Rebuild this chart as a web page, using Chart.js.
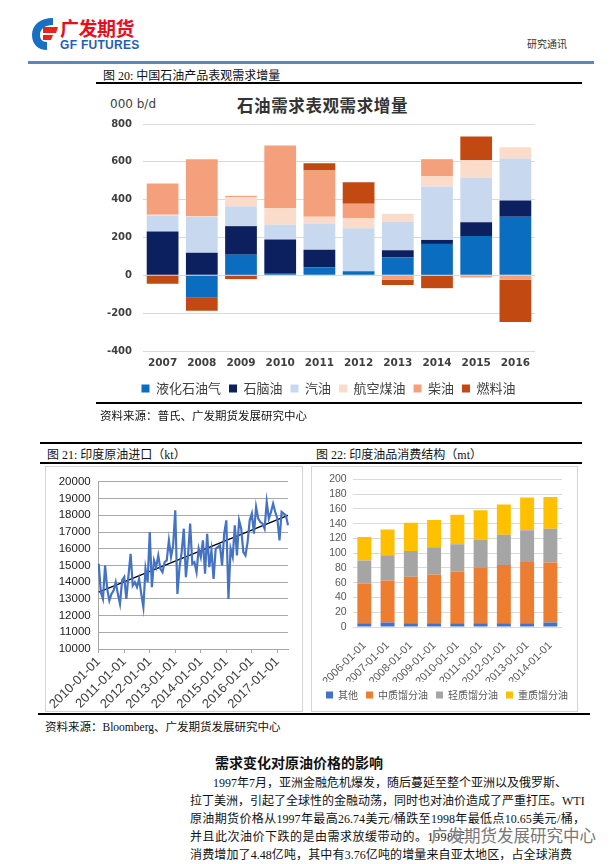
<!DOCTYPE html>
<html>
<head>
<meta charset="utf-8">
<script src="https://cdn.jsdelivr.net/npm/chart.js@4.4.1/dist/chart.umd.min.js"></script>
<style>
  body { margin: 0; background: #fff; }
  #page { position: relative; width: 614px; height: 864px; overflow: hidden; font-family: "Liberation Serif", "Noto Sans CJK SC", serif; color: #111; }
  .abs { position: absolute; white-space: nowrap; }
  .hline { position: absolute; background: #000; }
  .box { position: absolute; border: 1px solid #d4d4d4; box-sizing: border-box; }
  .cap { font-size: 12px; }
  .para { position: absolute; font-size: 12px; text-align: justify; text-align-last: justify; white-space: nowrap; }
</style>
</head>
<body>
<div id="page">
  <!-- header -->
  <svg class="abs" style="left:31px;top:17px" width="27" height="34" viewBox="0 0 27 34">
    <path d="M22 1 C9 1 1 8 1 18 C1 27 7 33 16 33 L16 25 C11 25 9 22 9 18 C9 12 14 8 22 8 Z" fill="#1a6fc4"/>
    <path d="M12 10 L27 10 L25 16 L12 16 Z" fill="#e8231b"/>
    <path d="M12 18 L22 18 L20 23 L12 23 Z" fill="#e8231b"/>
  </svg>
  <div class="abs" style="left:60px;top:14px;font:bold 19px 'Noto Sans CJK SC';color:#e60f1b;letter-spacing:-0.5px">广发期货</div>
  <div class="abs" style="left:60px;top:38px;font:bold 12px 'Liberation Sans';color:#1f5fb4;letter-spacing:0.3px">GF FUTURES</div>
  <div class="abs" style="left:527px;top:36px;font-size:10px;color:#333">研究通讯</div>
  <div class="hline" style="left:28px;top:61px;width:566px;height:3px;background:#5b86c4"></div>

  <!-- figure 20 -->
  <div class="abs cap" style="left:103px;top:66px">图 20:&nbsp;中国石油产品表观需求增量</div>
  <div class="hline" style="left:96px;top:82px;width:486px;height:1.5px"></div>
  <div class="abs" style="left:110px;top:97px;font:12px 'DejaVu Sans';color:#404040">000 b/d</div>
  <div class="abs" style="left:237px;top:93px;font:bold 16.5px 'Noto Sans CJK SC';color:#333;letter-spacing:0.6px">石油需求表观需求增量</div>
  <canvas id="c1" class="abs" style="left:96px;top:84px" width="484" height="321"></canvas>
  <div class="hline" style="left:96px;top:402px;width:486px;height:1.5px"></div>
  <div class="abs" style="left:100px;top:407px;font-size:11.5px">资料来源：普氏、广发期货发展研究中心</div>

  <!-- figures 21 / 22 -->
  <div class="hline" style="left:40px;top:442px;width:542px;height:1.5px"></div>
  <div class="abs cap" style="left:47px;top:445px">图 21:&nbsp;印度原油进口（kt）</div>
  <div class="abs cap" style="left:316px;top:445px">图 22:&nbsp;印度油品消费结构（mt）</div>
  <div class="hline" style="left:40px;top:462px;width:542px;height:1.5px"></div>
  <div class="box" style="left:45px;top:466px;width:258px;height:246px"></div>
  <div class="box" style="left:311px;top:466px;width:267px;height:246px"></div>
  <canvas id="c2" class="abs" style="left:46px;top:467px" width="256" height="244"></canvas>
  <canvas id="c3" class="abs" style="left:312px;top:467px" width="275" height="243"></canvas>
  <div class="hline" style="left:38px;top:713px;width:552px;height:1.5px"></div>
  <div class="abs" style="left:45px;top:718px;font-size:11.5px">资料来源：Bloomberg、广发期货发展研究中心</div>

  <!-- text -->
  <div class="abs" style="left:215px;top:752px;font:bold 14px 'Noto Sans CJK SC'">需求变化对原油价格的影响</div>
  <div class="para" style="left:213px;top:773px;width:344px">1997年7月，亚洲金融危机爆发，随后蔓延至整个亚洲以及俄罗斯、</div>
  <div class="para" style="left:190px;top:791px;width:393px">拉丁美洲，引起了全球性的金融动荡，同时也对油价造成了严重打压。WTI</div>
  <div class="para" style="left:190px;top:809px;width:395px">原油期货价格从1997年最高26.74美元/桶跌至1998年最低点10.65美元/桶，</div>
  <div class="abs" style="left:190px;top:827px;font-size:12px;letter-spacing:0.5px">并且此次油价下跌的是由需求放缓带动的。1998年</div>
  <div class="abs" style="left:431px;top:823px;font:16.5px 'Noto Sans CJK SC';color:#777;text-shadow:0 0 2px #fff,0 0 2px #fff">广发期货发展研究中心</div>
  <div class="para" style="left:190px;top:845px;width:382px">消费增加了4.48亿吨，其中有3.76亿吨的增量来自亚太地区，占全球消费</div>
</div>

<script>
// ---- 图20 中国石油产品表观需求增量 (000 b/d)
const years = ["2007","2008","2009","2010","2011","2012","2013","2014","2015","2016"];
const lpg      = [0, -119, 109, 9, 43, 21, 94, 166, 208, 310];
const naphtha  = [232, 119, 151, 180, 92, 0, 38, 21, 73, 85];
const gasoline = [84, 190, 105, 78, 139, 228, 151, 283, 235, 223];
const jetFuel  = [4, 5, 48, 87, 36, 54, 43, 55, 93, 59];
const diesel   = [165, 300, 7, 333, 244, 75, -23, 89, -12, -23];
const fuelOil  = [-44, -68, -20, 0, 39, 114, -28, -68, 125, -224];

// ---- 图21 印度原油进口 (kt), 月度 2010-01 .. 2017-06
const importKt = [
  15100, 13400, 13000, 15000, 13600, 12900, 13300, 13500, 14000, 13300, 12700, 14100,
  14300, 13000, 14400, 15700, 13800, 14000, 13700, 14200, 13300, 12500, 14800, 14000,
  17000, 13700, 15300, 14900, 15600, 14800, 14600, 15200, 15300, 16500, 15500, 16200,
  18300, 13300, 14900, 15800, 17200, 14300, 15600, 17500, 15100, 15200, 14600, 16000,
  15500, 16500, 14500, 16900, 14900, 15900, 14200, 16000, 16100, 16200, 15000, 16900,
  17700, 13000, 16000, 15500, 17400, 15600, 17700, 17200, 15800, 15600, 16400, 17700,
  18100, 16900, 18500, 17800, 17600, 17500, 17200, 18800, 17800, 18200, 18700, 18200,
  17800, 16500, 18200, 18100, 18000, 17400
];
const trendEnds = [13400, 18000];
const months = [];
for (let y = 2010; y <= 2017; y++) {
  for (let m = 1; m <= 12; m++) {
    if (months.length < importKt.length) months.push(y + "-" + String(m).padStart(2, "0") + "-01");
  }
}

// ---- 图22 印度油品消费结构 (mt)
const consYears = ["2006-01-01","2007-01-01","2008-01-01","2009-01-01","2010-01-01","2011-01-01","2012-01-01","2013-01-01","2014-01-01"];
const other   = [5, 6, 5, 5, 5, 5, 5, 5, 6];
const middle  = [54, 57, 63, 66, 70, 75, 79, 83, 81.5];
const light   = [31, 34, 35, 37, 37, 38, 41, 43, 45.5];
const heavy   = [32, 35, 38, 37, 40, 40, 41, 44.5, 43];

const cjk = "'Noto Sans CJK SC'";

// blank right-hand axis, only used to keep the legend centred where the original has it
const spacer = w => ({
  position: "right", min: 0, max: 1,
  ticks: { display: false }, grid: { display: false }, border: { display: false },
  afterFit: s => { s.width = w; }
});

new Chart(document.getElementById("c1"), {
  type: "bar",
  data: {
    labels: years,
    datasets: [
      { label: "液化石油气", data: lpg, backgroundColor: "#0b6dc0" },
      { label: "石脑油", data: naphtha, backgroundColor: "#0c1f5e" },
      { label: "汽油", data: gasoline, backgroundColor: "#c8d9ef" },
      { label: "航空煤油", data: jetFuel, backgroundColor: "#fbdccb" },
      { label: "柴油", data: diesel, backgroundColor: "#f4a07c" },
      { label: "燃料油", data: fuelOil, backgroundColor: "#c24a12" }
    ]
  },
  options: {
    responsive: false,
    animation: false,
    layout: { padding: { top: 40, right: 19, left: 0, bottom: 0 } },
    datasets: { bar: { categoryPercentage: 0.9, barPercentage: 0.9 } },
    scales: {
      x: {
        stacked: true,
        grid: { display: false, drawTicks: false, tickLength: 0 },
        border: { display: false },
        ticks: { font: { family: "DejaVu Sans", size: 10.5, weight: "bold" }, color: "#404040", padding: 6 },
        afterFit: s => { s.height = 23; }
      },
      y: {
        stacked: true,
        min: -400,
        max: 800,
        ticks: { stepSize: 200, font: { family: "DejaVu Sans", size: 10, weight: "bold" }, color: "#404040", padding: 11 },
        grid: { color: "#d9d9d9", drawTicks: false },
        border: { display: false },
        afterFit: s => { s.width = 47; }
      },
      pad: spacer(26)
    },
    plugins: {
      tooltip: { enabled: false },
      legend: {
        position: "bottom",
        labels: { boxWidth: 8, boxHeight: 8, padding: 8, color: "#404040", font: { family: cjk, size: 13 } }
      }
    }
  }
});

new Chart(document.getElementById("c2"), {
  type: "line",
  data: {
    labels: months,
    datasets: [
      { data: importKt, borderColor: "#4472c4", borderWidth: 2.2, pointRadius: 0, tension: 0 },
      { data: [{ x: months[0], y: trendEnds[0] }, { x: months[months.length - 1], y: trendEnds[1] }],
        borderColor: "#000", borderWidth: 1.4, pointRadius: 0 }
    ]
  },
  options: {
    responsive: false,
    animation: false,
    layout: { padding: { top: 9, right: 14, left: 0, bottom: 0 } },
    scales: {
      x: {
        grid: { drawOnChartArea: false, tickLength: 4, color: "#a6a6a6" },
        border: { color: "#a6a6a6" },
        ticks: {
          autoSkip: false, maxRotation: 45, minRotation: 45, padding: 1,
          color: "#404040", font: { family: "Liberation Sans", size: 13 },
          callback: function (v) { const l = this.getLabelForValue(v); return l.slice(5, 7) === "01" ? l : null; }
        },
        afterFit: s => { s.height = 62; }
      },
      y: {
        min: 10000,
        max: 20000,
        ticks: { stepSize: 1000, autoSkip: false, color: "#222", font: { family: "Liberation Sans", size: 11.5 }, padding: 8, callback: v => String(v) },
        grid: { color: "#a9a9a9", drawTicks: false },
        border: { color: "#a6a6a6" },
        afterFit: s => { s.width = 52.7; }
      }
    },
    plugins: { legend: { display: false }, tooltip: { enabled: false } }
  }
});

new Chart(document.getElementById("c3"), {
  type: "bar",
  data: {
    labels: consYears,
    datasets: [
      { label: "其他", data: other, backgroundColor: "#4472c4" },
      { label: "中质馏分油", data: middle, backgroundColor: "#ed7d31" },
      { label: "轻质馏分油", data: light, backgroundColor: "#a5a5a5" },
      { label: "重质馏分油", data: heavy, backgroundColor: "#ffc000" }
    ]
  },
  options: {
    responsive: false,
    animation: false,
    layout: { padding: { top: 9.7, right: 5, left: 0, bottom: 0 } },
    datasets: { bar: { categoryPercentage: 0.8, barPercentage: 0.75 } },
    scales: {
      x: {
        stacked: true,
        grid: { display: false },
        border: { display: false },
        ticks: { maxRotation: 45, minRotation: 45, padding: 4, color: "#595959", font: { family: "Liberation Sans", size: 11 } },
        afterFit: s => { s.height = 55; }
      },
      y: {
        stacked: true,
        min: 0,
        max: 200,
        ticks: { stepSize: 20, autoSkip: false, color: "#595959", font: { family: "Liberation Sans", size: 10.5 }, padding: 6 },
        grid: { color: "#d9d9d9", drawTicks: false },
        border: { display: false },
        afterFit: s => { s.width = 40.7; }
      },
      pad: spacer(20)
    },
    plugins: {
      tooltip: { enabled: false },
      legend: {
        position: "bottom",
        labels: { boxWidth: 7, boxHeight: 7, padding: 8, color: "#595959", font: { family: cjk, size: 10 } }
      }
    }
  }
});
</script>
</body>
</html>
